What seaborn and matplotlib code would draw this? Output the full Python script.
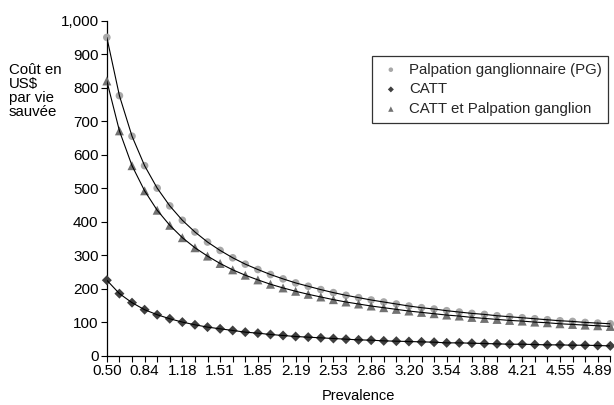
import pandas as pd
import matplotlib
matplotlib.use("Agg")
import matplotlib.pyplot as plt
import seaborn as sns
from matplotlib.ticker import FuncFormatter

# ── data ─────────────────────────────────────────────────────────────────────
prevalence = [0.5, 0.6125, 0.725, 0.8375, 0.95, 1.0625, 1.175, 1.2875, 1.4,
              1.5125, 1.625, 1.7375, 1.85, 1.9625, 2.075, 2.1875, 2.3, 2.4125,
              2.525, 2.6375, 2.75, 2.8625, 2.975, 3.0875, 3.2, 3.3125, 3.425,
              3.5375, 3.65, 3.7625, 3.875, 3.9875, 4.1, 4.2125, 4.325, 4.4375,
              4.55, 4.6625, 4.775, 4.8875, 5.0]

cout_pg = [950, 776, 655, 567, 500, 447, 404, 369, 339, 314, 292, 273, 257,
           242, 229, 217, 207, 197, 188, 180, 173, 166, 160, 154, 148, 143,
           139, 134, 130, 126, 123, 119, 116, 113, 110, 107, 104, 102, 99, 97, 95]

cout_catt = [225, 185, 158, 137, 122, 110, 100, 92, 85, 80, 75, 70, 67, 63,
             60, 57, 55, 53, 51, 49, 47, 46, 44, 43, 42, 41, 40, 38, 38, 37,
             36, 35, 34, 34, 33, 32, 32, 31, 31, 30, 29]

cout_catt_pg = [820, 671, 567, 492, 434, 389, 352, 322, 297, 275, 256, 240,
                226, 213, 202, 192, 183, 175, 167, 160, 154, 148, 143, 138,
                133, 129, 125, 121, 118, 114, 111, 108, 105, 103, 100, 98, 95,
                93, 91, 89, 87]

tick_labels = ["0.50", "0.84", "1.18", "1.51", "1.85", "2.19", "2.53", "2.86",
               "3.20", "3.54", "3.88", "4.21", "4.55", "4.89"]

SERIES = ["Palpation ganglionnaire (PG)", "CATT", "CATT et Palpation ganglion"]
MARKERS = {SERIES[0]: "o", SERIES[1]: "D", SERIES[2]: "^"}
COLORS = {SERIES[0]: "#a8a8a8", SERIES[1]: "#3f3f3f", SERIES[2]: "#727272"}
SIZES = {SERIES[0]: 30, SERIES[1]: 26, SERIES[2]: 42}

df = pd.DataFrame({
    "prevalence": prevalence * 3,
    "cout": cout_pg + cout_catt + cout_catt_pg,
    "serie": [SERIES[0]] * len(prevalence) + [SERIES[1]] * len(prevalence)
             + [SERIES[2]] * len(prevalence),
})

sns.set_theme(style="ticks")
plt.rcParams["font.family"] = ["Liberation Sans", "DejaVu Sans"]
plt.rcParams["font.size"] = 10

fig = plt.figure(figsize=(6.14, 4.05), dpi=100)
ax = fig.add_axes([0.174, 0.122, 0.820, 0.827])

for s in SERIES:
    sub = df[df["serie"] == s]
    sns.scatterplot(data=sub, x="prevalence", y="cout", ax=ax,
                    marker=MARKERS[s], color=COLORS[s], s=SIZES[s],
                    edgecolor="none", label=s, clip_on=False, zorder=3)
    sns.lineplot(data=sub, x="prevalence", y="cout", ax=ax, color="black",
                 linewidth=0.8, legend=False, zorder=4)

ax.set_xlim(0.5, 5.0)
ax.set_ylim(0, 1000)
ax.set_yticks(range(0, 1001, 100))
ax.yaxis.set_major_formatter(FuncFormatter(lambda v, p: f"{int(v):,}"))
ax.set_xticks(prevalence)
ax.set_xticklabels([tick_labels[i // 3] if i % 3 == 0 and i // 3 < len(tick_labels) else ""
                    for i in range(len(prevalence))])
ax.tick_params(axis="both", direction="out", length=4, width=0.8, color="black",
               labelsize=11, labelcolor="black", pad=2)
for sp in ["left", "bottom"]:
    ax.spines[sp].set_color("black")
    ax.spines[sp].set_linewidth(0.9)
sns.despine(ax=ax)

ax.set_xlabel("Prevalence", fontsize=10.5, color="black", labelpad=8)
ax.set_ylabel("")
fig.text(0.014, 0.845, "Coût en\nUS$\npar vie\nsauvée", fontsize=10.8,
         ha="left", va="top", linespacing=1.0, color="black")

leg = ax.legend(loc="upper right", bbox_to_anchor=(0.991, 0.862),
                bbox_transform=fig.transFigure, frameon=True,
                fancybox=False, edgecolor="black", fontsize=10.8,
                handletextpad=0.4, borderpad=0.45, labelspacing=0.38,
                handlelength=1.6, markerscale=0.6, borderaxespad=0)
leg.get_frame().set_linewidth(0.9)

fig.savefig("out.png", dpi=100)
